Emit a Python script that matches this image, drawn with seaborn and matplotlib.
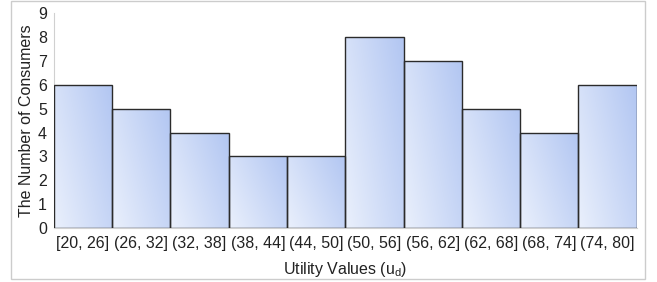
import numpy as np
import pandas as pd
import seaborn as sns
import matplotlib.pyplot as plt
from matplotlib.colors import LinearSegmentedColormap
from matplotlib.patches import Rectangle

# Data
bins = ['[20, 26]', '(26, 32]', '(32, 38]', '(38, 44]', '(44, 50]',
        '(50, 56]', '(56, 62]', '(62, 68]', '(68, 74]', '(74, 80]']
counts = [6, 5, 4, 3, 3, 8, 7, 5, 4, 6]

df = pd.DataFrame({'bin': bins, 'count': counts})

sns.set_style('white')
plt.rcParams['font.family'] = ['Liberation Sans', 'DejaVu Sans']

fig = plt.figure(figsize=(6.57, 2.82), dpi=100)
ax = fig.add_axes([0.082, 0.191, 0.887, 0.763])

sns.barplot(data=df, x='bin', y='count', width=1.0, color='#c8d6f6',
            edgecolor='#2b2b2b', linewidth=1.0, ax=ax)

# gradient fill: light at bottom-left, blue at top-right, inside each bar
cmap = LinearSegmentedColormap.from_list('grad', ['#eaf0fc', '#b2c6f2'])
yy, xx = np.mgrid[0:1:100j, 0:1:100j]
grad = 0.35 * yy + 0.65 * xx
for p in ax.patches:
    x0, y0 = p.get_x(), p.get_y()
    w, h = p.get_width(), p.get_height()
    im = ax.imshow(grad, cmap=cmap, extent=[x0, x0 + w, y0, y0 + h],
                   origin='lower', aspect='auto', zorder=p.get_zorder() - 0.1,
                   vmin=0, vmax=1)
    im.set_clip_path(p)
    p.set_facecolor('none')
    p.set_zorder(3)

ax.set_xlim(-0.5, len(bins) - 0.5)
ax.set_ylim(0, 9)
ax.set_yticks(range(0, 10))
ax.tick_params(axis='both', length=0, labelsize=11.5, colors='#222222')
ax.tick_params(axis='x', pad=6)
ax.tick_params(axis='y', pad=5)
ax.set_xlabel('Utility Values (u$_\\mathregular{d}$)', fontsize=11.5, color='#222222', labelpad=6)
ax.set_ylabel('The Number of Consumers', fontsize=11.5, color='#222222', labelpad=3)

for s in ['top', 'right']:
    ax.spines[s].set_visible(False)
ax.spines['left'].set_color('#d0d0d0')
ax.spines['bottom'].set_color('#d0d0d0')

# frame around the whole chart
fig.patches.append(Rectangle((0.016, 0.012), 0.966, 0.985, transform=fig.transFigure,
                             fill=False, edgecolor='#cccccc', linewidth=1.0))

fig.savefig('out.png', dpi=100)
